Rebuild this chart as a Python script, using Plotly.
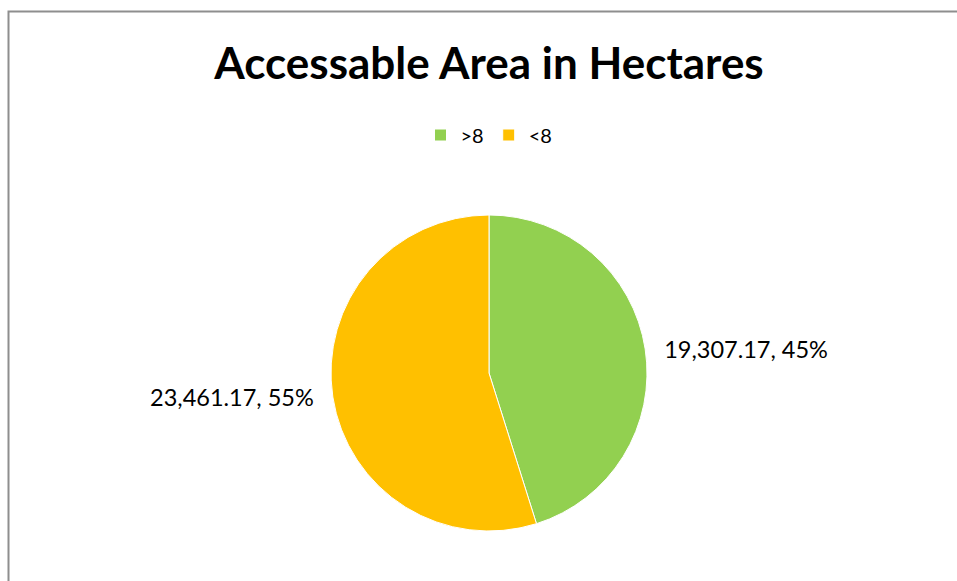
import plotly.graph_objects as go

# Accessible area split by slope class, in hectares
categories = [">8", "<8"]
areas_ha = [19307.17, 23461.17]
slice_colors = ["#92D050", "#FFC000"]

W, H = 957, 581
FONT = "Lato, Open Sans, sans-serif"

# value + share labels, padded away from the pie edge on each side
pad = "\u00a0" * 2
label_fmt = "%{value:,.2f}, %{percent:.0%}"
label_templates = [pad + label_fmt, label_fmt + pad]

fig = go.Figure(
    go.Pie(
        labels=categories,
        values=areas_ha,
        marker=dict(colors=slice_colors, line=dict(color="white", width=1)),
        sort=False,
        direction="clockwise",
        rotation=0,
        textposition="outside",
        texttemplate=label_templates,
        textfont=dict(family=FONT, size=23.5, color="#000000"),
        domain=dict(x=[(489 - 158) / W, (489 + 158) / W],
                    y=[(208 - 158) / H, (208 + 158) / H]),
        hoverinfo="label+value+percent",
    )
)

fig.update_layout(
    width=W,
    height=H,
    margin=dict(l=0, r=0, t=0, b=0),
    paper_bgcolor="white",
    plot_bgcolor="white",
    title=dict(
        text="<b>Accessable Area in Hectares</b>",
        font=dict(family=FONT, size=44, color="#000000"),
        x=489 / W,
        xanchor="center",
        y=1 - 64 / H,
        yanchor="middle",
    ),
    legend=dict(
        orientation="h",
        x=489 / W,
        xanchor="center",
        y=1 - 135 / H,
        yanchor="middle",
        font=dict(family=FONT, size=20, color="#000000"),
        itemwidth=30,
    ),
    shapes=[
        dict(
            type="rect",
            xref="paper",
            yref="paper",
            x0=8.5 / W,
            x1=1.05,
            y0=-0.05,
            y1=1 - 11.5 / H,
            line=dict(color="#8E8E8E", width=2),
            fillcolor="rgba(0,0,0,0)",
            layer="below",
        )
    ],
)

fig.write_html("out.html")
